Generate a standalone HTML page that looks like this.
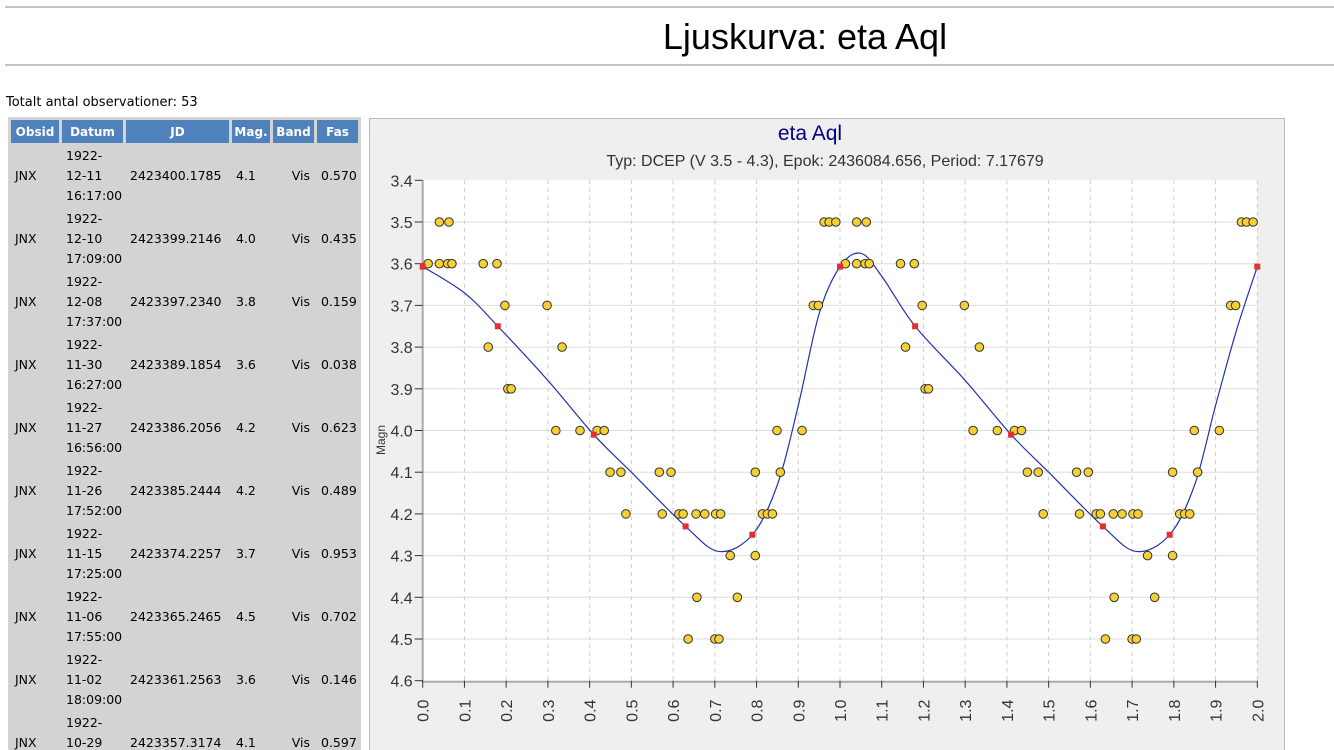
<!DOCTYPE html>
<html><head><meta charset="utf-8"><style>
html,body{margin:0;width:1334px;height:750px;overflow:hidden;background:#fff;font-family:"DejaVu Sans","Liberation Sans",sans-serif}
#w{position:relative;width:1334px;height:750px;overflow:hidden}
.hr{position:absolute;left:5px;right:0;height:0;border-top:2px solid #c4c4c4}
h1{position:absolute;left:0;width:1610px;text-align:center;top:16px;margin:0;font-weight:normal;font-size:36px;font-family:"Liberation Sans",sans-serif}
.tot{position:absolute;left:6px;top:95px;font-size:13px}
table{position:absolute;left:8px;top:117px;border-spacing:3px;background:#d3d3d3;font-size:12.5px;table-layout:fixed;width:352px}
th{background:#4f81bd;color:#fff;height:23px;padding:0;font-size:12px;text-align:center}
td{height:60px;padding:0 0 0 4px;vertical-align:middle;line-height:20px;white-space:nowrap;overflow:hidden}
</style></head><body><div id="w">
<div class="hr" style="top:6px"></div>
<h1>Ljuskurva: eta Aql</h1>
<div class="hr" style="top:64px"></div>
<div class="tot">Totalt antal observationer: 53</div>
<table>
<colgroup><col style="width:48px"><col style="width:61px"><col style="width:103px"><col style="width:38px"><col style="width:41px"><col style="width:41px"></colgroup>
<tr><th>Obsid</th><th>Datum</th><th>JD</th><th>Mag.</th><th>Band</th><th>Fas</th></tr>
<tr><td>JNX</td><td>1922-<br>12-11<br>16:17:00</td><td>2423400.1785</td><td>4.1</td><td align="right" style="padding-right:4px">Vis</td><td>0.570</td></tr>
<tr><td>JNX</td><td>1922-<br>12-10<br>17:09:00</td><td>2423399.2146</td><td>4.0</td><td align="right" style="padding-right:4px">Vis</td><td>0.435</td></tr>
<tr><td>JNX</td><td>1922-<br>12-08<br>17:37:00</td><td>2423397.2340</td><td>3.8</td><td align="right" style="padding-right:4px">Vis</td><td>0.159</td></tr>
<tr><td>JNX</td><td>1922-<br>11-30<br>16:27:00</td><td>2423389.1854</td><td>3.6</td><td align="right" style="padding-right:4px">Vis</td><td>0.038</td></tr>
<tr><td>JNX</td><td>1922-<br>11-27<br>16:56:00</td><td>2423386.2056</td><td>4.2</td><td align="right" style="padding-right:4px">Vis</td><td>0.623</td></tr>
<tr><td>JNX</td><td>1922-<br>11-26<br>17:52:00</td><td>2423385.2444</td><td>4.2</td><td align="right" style="padding-right:4px">Vis</td><td>0.489</td></tr>
<tr><td>JNX</td><td>1922-<br>11-15<br>17:25:00</td><td>2423374.2257</td><td>3.7</td><td align="right" style="padding-right:4px">Vis</td><td>0.953</td></tr>
<tr><td>JNX</td><td>1922-<br>11-06<br>17:55:00</td><td>2423365.2465</td><td>4.5</td><td align="right" style="padding-right:4px">Vis</td><td>0.702</td></tr>
<tr><td>JNX</td><td>1922-<br>11-02<br>18:09:00</td><td>2423361.2563</td><td>3.6</td><td align="right" style="padding-right:4px">Vis</td><td>0.146</td></tr>
<tr><td>JNX</td><td>1922-<br>10-29<br>17:40:00</td><td>2423357.3174</td><td>4.1</td><td align="right" style="padding-right:4px">Vis</td><td>0.597</td></tr>
</table>
<svg id="c" style="position:absolute;left:0;top:0" width="1334" height="750"></svg>
</div>
<script>
var s='';
function X(p){return 422.7+p*417.3}
function Y(m){return 180.3+(m-3.4)*417}
s+='<rect x="369.5" y="118.5" width="915" height="640" fill="#efefef" stroke="#bbb"/>';
s+='<rect x="'+X(0)+'" y="'+Y(3.4)+'" width="834.6" height="500.4" fill="#fff"/>';
for(var i=1;i<12;i++){s+='<line x1="'+X(0)+'" x2="'+X(2)+'" y1="'+Y(3.4+i/10)+'" y2="'+Y(3.4+i/10)+'" stroke="#ddd"/>';}
for(var i=1;i<=20;i++){s+='<line y1="'+Y(3.4)+'" y2="'+Y(4.6)+'" x1="'+X(i/10)+'" x2="'+X(i/10)+'" stroke="#ccc" stroke-dasharray="4,4"/>';}
s+='<line x1="'+X(0)+'" x2="'+X(0)+'" y1="'+Y(3.4)+'" y2="'+(Y(4.6)+1)+'" stroke="#aaa" stroke-width="2"/>';
s+='<line x1="'+X(0)+'" x2="'+X(2)+'" y1="'+(Y(4.6)+1)+'" y2="'+(Y(4.6)+1)+'" stroke="#aaa" stroke-width="2"/>';
for(var i=0;i<=12;i++){var m=3.4+i/10,y=Y(m);s+='<line x1="'+(X(0)-8)+'" x2="'+X(0)+'" y1="'+y+'" y2="'+y+'" stroke="#333"/><text x="'+(X(0)-10)+'" y="'+(y+6)+'" text-anchor="end" font-size="16" fill="#333" font-family="Liberation Sans">'+m.toFixed(1)+'</text>';}
for(var i=0;i<=20;i++){var x=X(i/10);s+='<line x1="'+x+'" x2="'+x+'" y1="'+Y(4.6)+'" y2="'+(Y(4.6)+7)+'" stroke="#333"/><text transform="translate('+(x+6)+','+(Y(4.6)+30)+') rotate(-90)" text-anchor="middle" font-size="16" fill="#333" font-family="Liberation Sans">'+(i/10).toFixed(1)+'</text>';}
s+='<text transform="translate(385,440) rotate(-90)" text-anchor="middle" font-size="12" fill="#333" font-family="Liberation Sans">Magn</text>';
s+='<text x="810" y="140" text-anchor="middle" font-size="21" fill="#000080" font-family="Liberation Sans">eta Aql</text>';
s+='<text x="825" y="166" text-anchor="middle" font-size="16" fill="#333" font-family="Liberation Sans">Typ: DCEP (V 3.5 - 4.3), Epok: 2436084.656, Period: 7.17679</text>';
var k=[[0,3.607],[0.1,3.67],[0.18,3.75],[0.3,3.88],[0.41,4.01],[0.5,4.1],[0.63,4.23],[0.71,4.29],[0.79,4.25],[0.85,4.13],[0.9,3.94],[0.95,3.72],[1.0,3.607],[1.05,3.575],[1.1,3.63],[1.18,3.75],[1.3,3.88],[1.41,4.01],[1.5,4.1],[1.63,4.23],[1.71,4.29],[1.79,4.25],[1.85,4.13],[1.9,3.94],[1.95,3.76],[2.0,3.607]];
var d='M'+X(k[0][0])+','+Y(k[0][1]);
for(var i=0;i<k.length-1;i++){var p0=k[Math.max(0,i-1)],p1=k[i],p2=k[i+1],p3=k[Math.min(k.length-1,i+2)];
var ax=X(p1[0])+(X(p2[0])-X(p0[0]))/6,ay=Y(p1[1])+(Y(p2[1])-Y(p0[1]))/6,bx=X(p2[0])-(X(p3[0])-X(p1[0]))/6,by=Y(p2[1])-(Y(p3[1])-Y(p1[1]))/6;
d+=' C'+ax+','+ay+' '+bx+','+by+' '+X(p2[0])+','+Y(p2[1]);}
s+='<path d="'+d+'" fill="none" stroke="#2233aa" stroke-width="1.2"/>';
var pts=[[0.013,3.6],[0.04,3.6],[0.06,3.6],[0.07,3.6],[0.145,3.6],[0.178,3.6],[0.04,3.5],[0.063,3.5],[0.157,3.8],[0.197,3.7],[0.298,3.7],[0.204,3.9],[0.212,3.9],[0.334,3.8],[0.319,4.0],[0.377,4.0],[0.418,4.0],[0.435,4.0],[0.449,4.1],[0.475,4.1],[0.487,4.2],[0.567,4.1],[0.595,4.1],[0.574,4.2],[0.614,4.2],[0.624,4.2],[0.636,4.5],[0.657,4.4],[0.655,4.2],[0.676,4.2],[0.702,4.2],[0.714,4.2],[0.70,4.5],[0.71,4.5],[0.737,4.3],[0.797,4.3],[0.754,4.4],[0.797,4.1],[0.857,4.1],[0.814,4.2],[0.826,4.2],[0.838,4.2],[0.849,4.0],[0.909,4.0],[0.936,3.7],[0.948,3.7],[0.962,3.5],[0.974,3.5],[0.99,3.5]];
pts.forEach(function(p){[0,1].forEach(function(o){s+='<circle cx="'+X(p[0]+o)+'" cy="'+Y(p[1])+'" r="4.3" fill="#f5d033" stroke="#333" stroke-width="1"/>';});});
[[0,3.607],[0.18,3.75],[0.41,4.01],[0.63,4.23],[0.79,4.25],[1,3.607],[1.18,3.75],[1.41,4.01],[1.63,4.23],[1.79,4.25],[2,3.607]].forEach(function(p){s+='<rect x="'+(X(p[0])-3)+'" y="'+(Y(p[1])-3)+'" width="6" height="6" fill="#e03030"/>';});
document.getElementById('c').innerHTML=s;
</script>
</body></html>
